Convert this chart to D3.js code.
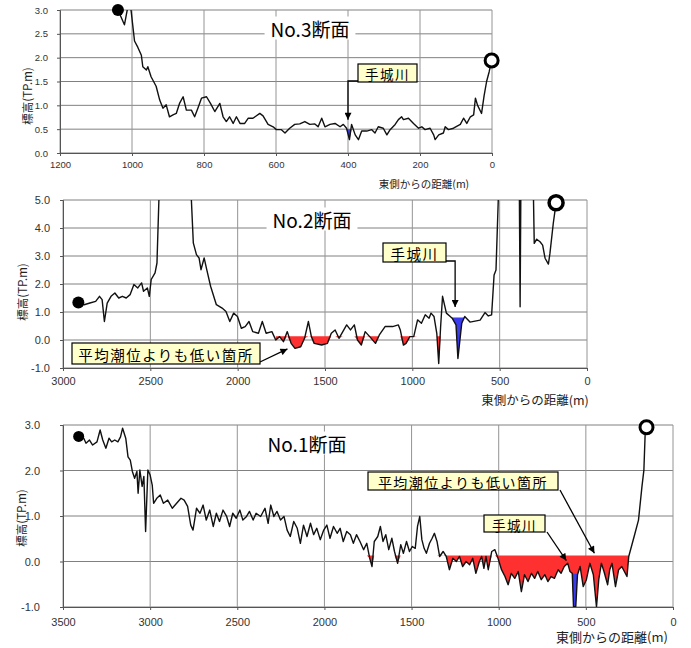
<!DOCTYPE html>
<html>
<head>
<meta charset="utf-8">
<script src="https://cdn.jsdelivr.net/npm/d3@7"></script>
<style>
  body { margin: 0; background: #fff; }
  svg { display: block; }
</style>
</head>
<body>
<div id="chart"></div>
<script>
// profile data: [distance from east side (m), elevation (TP.m)]
var sec3Profile = [[1039,3.0],[1021,2.69],[1012,3.05],[1003,3.02],[993,2.35],[984,2.22],[974,2.05],[970,1.81],[960,1.74],[956,1.81],[947,1.6],[933,1.4],[923,1.11],[914,0.94],[905,1.01],[896,0.76],[886,0.8],[877,0.83],[868,1.04],[858,1.18],[849,0.9],[835,0.9],[826,0.76],[817,0.94],[807,1.15],[793,1.18],[782,1.04],[770,0.87],[756,1.04],[747,0.76],[738,0.66],[729,0.76],[719,0.62],[710,0.76],[700,0.62],[687,0.62],[677,0.73],[664,0.73],[645,0.83],[636,0.78],[622,0.6],[608,0.55],[599,0.49],[585,0.49],[575,0.42],[562,0.52],[548,0.6],[534,0.61],[520,0.66],[506,0.6],[492,0.61],[483,0.55],[473,0.73],[464,0.55],[450,0.6],[436,0.62],[422,0.55],[413,0.6],[404,0.52],[396,0.28],[390,0.6],[380,0.38],[371,0.28],[362,0.46],[348,0.46],[334,0.49],[325,0.42],[316,0.55],[302,0.52],[292,0.38],[283,0.49],[269,0.6],[260,0.7],[251,0.76],[246,0.7],[232,0.73],[218,0.62],[204,0.52],[195,0.55],[186,0.49],[172,0.52],[162,0.38],[158,0.28],[148,0.38],[135,0.42],[130,0.55],[121,0.49],[107,0.52],[88,0.6],[79,0.73],[70,0.62],[60,0.76],[51,0.8],[46,1.15],[40,1.0],[29,0.83],[22,1.2],[15,1.5],[8,1.7],[1,1.94]];

var sec2Profile = [[2912,1.34],[2879,1.26],[2846,1.32],[2813,1.38],[2791,1.56],[2776,1.44],[2763,0.66],[2747,1.32],[2725,1.56],[2703,1.68],[2681,1.5],[2660,1.56],[2638,1.5],[2616,1.62],[2594,1.98],[2572,1.86],[2550,2.04],[2539,1.74],[2517,1.86],[2506,1.56],[2495,2.16],[2473,2.4],[2462,2.75],[2451,5.0],[2445,6.0],[2270,6.0],[2265,5.0],[2254,3.47],[2236,3.05],[2221,2.93],[2210,2.51],[2192,2.93],[2177,2.51],[2155,1.92],[2122,1.26],[2089,1.14],[2067,1.02],[2045,0.66],[2023,0.96],[2001,0.84],[1979,0.42],[1957,0.48],[1935,0.66],[1914,0.3],[1881,0.24],[1859,0.66],[1837,0.24],[1804,0.3],[1782,0.0],[1760,0.12],[1738,-0.06],[1716,0.3],[1694,-0.12],[1672,-0.3],[1639,-0.24],[1617,0.06],[1595,0.66],[1578,0.12],[1562,-0.12],[1519,-0.18],[1486,-0.12],[1464,0.24],[1442,0.36],[1420,0.06],[1398,0.3],[1376,0.54],[1354,0.36],[1332,0.54],[1314,0.0],[1292,-0.18],[1270,0.3],[1244,0.12],[1211,-0.12],[1189,0.18],[1156,0.48],[1113,0.48],[1080,0.54],[1069,0.36],[1051,-0.18],[1036,-0.12],[1014,0.12],[992,0.12],[970,0.72],[948,0.6],[926,0.9],[904,0.78],[893,0.96],[876,0.84],[860,0.24],[849,-0.84],[838,0.48],[827,1.56],[805,0.96],[783,0.84],[772,0.78],[750,0.54],[739,-0.66],[717,0.6],[700,0.84],[670,0.64],[612,0.71],[584,0.98],[565,0.86],[546,0.9],[532,2.32],[521,2.5],[508,5.0],[504,6.0],[388,6.0],[383,1.19],[378,6.0],[309,6.0],[302,3.45],[288,3.6],[269,3.51],[254,3.39],[240,2.92],[221,2.71],[212,3.1],[193,4.17],[177,4.9]];

var sec1Profile = [[3410,2.75],[3381,2.71],[3368,2.6],[3348,2.67],[3330,2.56],[3305,2.63],[3287,2.89],[3272,2.67],[3254,2.49],[3236,2.71],[3221,2.63],[3203,2.67],[3185,2.63],[3170,2.74],[3158,2.93],[3140,2.71],[3127,2.3],[3114,2.23],[3102,1.98],[3089,1.83],[3076,1.98],[3069,1.5],[3059,2.01],[3046,1.65],[3036,1.87],[3026,0.66],[3013,2.01],[3000,1.9],[2988,1.68],[2980,1.28],[2962,1.39],[2942,1.46],[2924,1.28],[2899,1.35],[2873,1.17],[2848,1.28],[2823,1.39],[2805,1.35],[2785,1.21],[2767,0.8],[2754,0.69],[2734,1.17],[2714,1.06],[2696,1.24],[2678,0.91],[2658,1.13],[2638,0.77],[2620,1.06],[2602,0.88],[2582,1.13],[2561,0.99],[2544,0.77],[2526,1.06],[2506,0.95],[2485,1.13],[2468,0.91],[2447,0.99],[2430,1.1],[2409,0.91],[2392,1.06],[2366,0.99],[2341,1.17],[2323,0.84],[2308,1.24],[2290,0.99],[2272,1.1],[2252,0.91],[2232,0.99],[2214,0.69],[2196,0.55],[2176,0.88],[2156,0.73],[2138,0.4],[2120,0.8],[2100,0.55],[2080,0.84],[2062,0.59],[2044,0.73],[2024,0.48],[2004,0.69],[1986,0.8],[1968,0.51],[1948,0.77],[1927,0.62],[1910,0.73],[1892,0.44],[1872,0.66],[1851,0.59],[1834,0.4],[1816,0.59],[1796,0.44],[1775,0.26],[1757,0.4],[1740,0.07],[1727,-0.11],[1714,0.44],[1694,0.55],[1679,0.77],[1664,0.44],[1648,0.59],[1631,0.26],[1613,0.51],[1598,0.22],[1580,-0.04],[1562,0.37],[1547,0.18],[1529,0.44],[1512,0.22],[1496,0.33],[1479,0.29],[1466,0.77],[1453,0.99],[1441,0.48],[1428,0.29],[1415,0.18],[1397,0.4],[1382,0.51],[1369,0.62],[1354,0.44],[1339,0.11],[1319,0.22],[1301,0.11],[1283,-0.18],[1263,0.07],[1243,0.0],[1225,0.11],[1207,-0.11],[1187,0.0],[1167,-0.07],[1149,0.07],[1131,-0.26],[1111,0.0],[1098,0.11],[1085,-0.15],[1073,0.11],[1060,-0.18],[1040,0.22],[1022,0.26],[1004,0.07],[984,-0.18],[964,-0.33],[946,-0.51],[928,-0.26],[908,-0.37],[888,-0.22],[870,-0.66],[852,-0.29],[832,-0.44],[812,-0.26],[794,-0.37],[776,-0.22],[756,-0.4],[735,-0.29],[718,-0.44],[700,-0.33],[680,-0.37],[659,-0.18],[642,-0.26],[624,-0.11],[604,-0.04],[591,-0.22],[578,-0.26],[571,-0.99],[558,-1.0],[548,-0.29],[533,-0.11],[515,-0.55],[497,-0.4],[477,-0.04],[457,-0.29],[439,-1.0],[426,-0.4],[411,-0.04],[396,-0.22],[375,-0.51],[363,-0.18],[350,-0.04],[330,-0.55],[312,-0.18],[294,-0.11],[279,-0.22],[264,-0.33],[254,0.11],[223,0.55],[198,0.91],[178,1.65],[167,2.01],[160,2.78],[152,2.95]];

// axis ticks
var sec3XTicks = [1200, 1000, 800, 600, 400, 200, 0];
var sec3YTicks = [0, 0.5, 1.0, 1.5, 2.0, 2.5, 3.0];
var sec2XTicks = [3000, 2500, 2000, 1500, 1000, 500, 0];
var sec2YTicks = [-1, 0, 1, 2, 3, 4, 5];
var sec1XTicks = [3500, 3000, 2500, 2000, 1500, 1000, 500, 0];
var sec1YTicks = [-1, 0, 1, 2, 3];

// mean tide level and low spots [level, from, to]
var meanTide = 0.13;
var sec3River = [0.5, 406, 388];
var sec2River = [0.8, 790, 698];
var sec2Low = [meanTide, 1800, 835];
var sec1River = [-0.27, 580, 546];
var sec1Low = [meanTide, 1760, 250];

var xTitle = "東側からの距離(m)";
var yTitle = "標高(TP.m)";
var riverLabel = "手城川";
var lowLabel = "平均潮位よりも低い箇所";

var jp = "'Noto Sans CJK JP', sans-serif";
var num = "'Liberation Sans', Arial, sans-serif";

var svg = d3.select("#chart")
    .append("svg")
    .attr("width", 691)
    .attr("height", 648);

var defs = svg.append("defs");
defs.append("marker")
    .attr("id", "arrow")
    .attr("viewBox", "0 0 10 10")
    .attr("refX", 10)
    .attr("refY", 5)
    .attr("markerWidth", 8)
    .attr("markerHeight", 7)
    .attr("markerUnits", "userSpaceOnUse")
    .attr("orient", "auto")
    .append("path")
    .attr("d", "M0,0 L10,5 L0,10 z")
    .attr("fill", "#000");

var panels = [
  { id: "p3", data: sec3Profile, title: "No.3断面", xMax: 1200, xTicks: sec3XTicks,
    yDom: [0, 3], yTicks: sec3YTicks, left: 60, right: 492, top: 10, bottom: 153,
    tickFont: 9.5, labelGap: 9, xLabelDy: 15, titleX: 310, titleY: 28,
    xTitleX: 424, xTitleY: 183, xTitleFont: 10.5, yTitleX: 27, yTitleY: 96,
    startR: 6, endR: 6.5, endW: 3,
    fills: [[sec3River, "#3b3bef"]],
    callouts: [
      { text: riverLabel, x: 358, y: 64, w: 59, h: 18, font: 13.5,
        path: function(x, y) { return [[358, 81], [x(400), 81], [x(400), y(0.7)]]; } }
    ] },
  { id: "p2", data: sec2Profile, title: "No.2断面", xMax: 3000, xTicks: sec2XTicks,
    yDom: [-1, 5], yTicks: sec2YTicks, left: 63, right: 587, top: 200, bottom: 368,
    tickFont: 11, labelGap: 10, xLabelDy: 16, titleX: 312, titleY: 219,
    xTitleX: 535, xTitleY: 399, xTitleFont: 12.5, yTitleX: 22, yTitleY: 292,
    startR: 6, endR: 7, endW: 3.5,
    fills: [[sec2Low, "#ff3030"], [sec2River, "#3b3bef"]],
    callouts: [
      { text: riverLabel, x: 383, y: 243, w: 63, h: 19, font: 14.5,
        path: function(x, y) { return [[446, 261], [x(755), 261], [x(755), y(1.18)]]; } },
      { text: lowLabel, x: 72, y: 343, w: 188, h: 21, font: 14.5,
        path: function(x, y) { return [[260, 362], [x(1715), y(-0.32)]]; } }
    ] },
  { id: "p1", data: sec1Profile, title: "No.1断面", xMax: 3500, xTicks: sec1XTicks,
    yDom: [-1, 3], yTicks: sec1YTicks, left: 63, right: 673, top: 425, bottom: 607,
    tickFont: 11, labelGap: 20, xLabelDy: 18, titleX: 307, titleY: 443,
    xTitleX: 612, xTitleY: 636, xTitleFont: 13, yTitleX: 21, yTitleY: 518,
    startR: 5.5, endR: 6.5, endW: 3,
    fills: [[sec1Low, "#ff3030"], [sec1River, "#3b3bef"]],
    callouts: [
      { text: lowLabel, x: 368, y: 472, w: 190, h: 18, font: 14,
        path: function(x, y) { return [[560, 490], [x(451), y(0.18)]]; } },
      { text: riverLabel, x: 484, y: 515, w: 61, h: 17, font: 13.5,
        path: function(x, y) { return [[547, 532], [x(612), y(0.02)]]; } }
    ] }
];

panels.forEach(function(p) {
  var x = d3.scaleLinear().domain([p.xMax, 0]).range([p.left, p.right]);
  var y = d3.scaleLinear().domain(p.yDom).range([p.bottom, p.top]);
  var g = svg.append("g");

  defs.append("clipPath").attr("id", "clip-" + p.id)
    .append("rect")
    .attr("x", p.left).attr("y", p.top)
    .attr("width", p.right - p.left).attr("height", p.bottom - p.top);

  // grid
  g.selectAll(".hgrid").data(p.yTicks).enter().append("line")
    .attr("x1", p.left).attr("x2", p.right)
    .attr("y1", function(d) { return y(d); }).attr("y2", function(d) { return y(d); })
    .attr("stroke", "#808080").attr("stroke-width", 1);
  g.selectAll(".vgrid").data(p.xTicks).enter().append("line")
    .attr("y1", p.top).attr("y2", p.bottom)
    .attr("x1", function(d) { return x(d); }).attr("x2", function(d) { return x(d); })
    .attr("stroke", "#949494").attr("stroke-width", 1);

  // axes
  var yAxis = g.append("g")
    .attr("transform", "translate(" + p.left + ",0)")
    .call(d3.axisLeft(y).tickValues(p.yTicks).tickSize(3).tickPadding(p.labelGap)
      .tickFormat(d3.format(".1f")));
  var xAxis = g.append("g")
    .attr("transform", "translate(0," + p.bottom + ")")
    .call(d3.axisBottom(x).tickValues(p.xTicks).tickSize(3).tickPadding(p.xLabelDy - 10)
      .tickFormat(d3.format("d")));
  [yAxis, xAxis].forEach(function(a) {
    a.select(".domain").attr("stroke", "#555");
    a.selectAll(".tick line").attr("stroke", "#555");
    a.selectAll("text").attr("fill", "#333").style("font-family", num)
      .style("font-size", p.tickFont + "px");
  });
  yAxis.selectAll(".tick text").text(function(d) {
    return d3.format(".1f")(d).replace("−", "-");
  });

  // fills under mean tide / river
  var plot = g.append("g").attr("clip-path", "url(#clip-" + p.id + ")");
  p.fills.forEach(function(f) {
    var lvl = f[0][0];
    var pts = p.data.filter(function(d) { return d[0] <= f[0][1] && d[0] >= f[0][2]; });
    plot.append("path")
      .datum(pts)
      .attr("fill", f[1])
      .attr("d", d3.area()
        .x(function(d) { return x(d[0]); })
        .y0(y(lvl))
        .y1(function(d) { return y(Math.min(d[1], lvl)); }));
  });

  // profile line
  plot.append("path")
    .datum(p.data)
    .attr("fill", "none")
    .attr("stroke", "#111")
    .attr("stroke-width", 1.4)
    .attr("stroke-linejoin", "round")
    .attr("d", d3.line()
      .x(function(d) { return x(d[0]); })
      .y(function(d) { return y(d[1]); }));

  // start / end markers
  var first = p.data[0], last = p.data[p.data.length - 1];
  g.append("circle")
    .attr("cx", x(first[0])).attr("cy", y(first[1])).attr("r", p.startR)
    .attr("fill", "#000");
  g.append("circle")
    .attr("cx", x(last[0])).attr("cy", y(last[1])).attr("r", p.endR)
    .attr("fill", "#fff").attr("stroke", "#000").attr("stroke-width", p.endW);

  // title with white backing
  var t = g.append("text")
    .attr("x", p.titleX).attr("y", p.titleY)
    .attr("text-anchor", "middle").attr("dominant-baseline", "central")
    .style("font-family", jp).style("font-size", "19px").attr("fill", "#000")
    .text(p.title);
  var bb = t.node().getBBox();
  g.insert("rect", function() { return t.node(); })
    .attr("x", bb.x - 6).attr("y", bb.y + 2)
    .attr("width", bb.width + 12).attr("height", bb.height - 4)
    .attr("fill", "#fff");

  // axis titles
  g.append("text")
    .attr("x", p.xTitleX).attr("y", p.xTitleY)
    .attr("text-anchor", "middle").attr("dominant-baseline", "central")
    .style("font-family", jp).style("font-size", p.xTitleFont + "px").attr("fill", "#222")
    .text(xTitle);
  g.append("text")
    .attr("transform", "translate(" + p.yTitleX + "," + p.yTitleY + ") rotate(-90)")
    .attr("text-anchor", "middle").attr("dominant-baseline", "central")
    .style("font-family", jp).style("font-size", "11.5px").attr("fill", "#222")
    .text(yTitle);

  // callouts
  p.callouts.forEach(function(c) {
    g.append("path")
      .attr("d", d3.line()(c.path(x, y)))
      .attr("fill", "none").attr("stroke", "#000").attr("stroke-width", 1.3)
      .attr("marker-end", "url(#arrow)");
    g.append("rect")
      .attr("x", c.x).attr("y", c.y).attr("width", c.w).attr("height", c.h)
      .attr("fill", "#ffffcc").attr("stroke", "#000").attr("stroke-width", 1.2);
    g.append("text")
      .attr("x", c.x + c.w / 2).attr("y", c.y + c.h / 2 + 1)
      .attr("text-anchor", "middle").attr("dominant-baseline", "central")
      .style("font-family", jp).style("font-size", c.font + "px")
      .style("letter-spacing", "1.5px").attr("fill", "#000")
      .text(c.text);
  });
});
</script>
</body>
</html>
